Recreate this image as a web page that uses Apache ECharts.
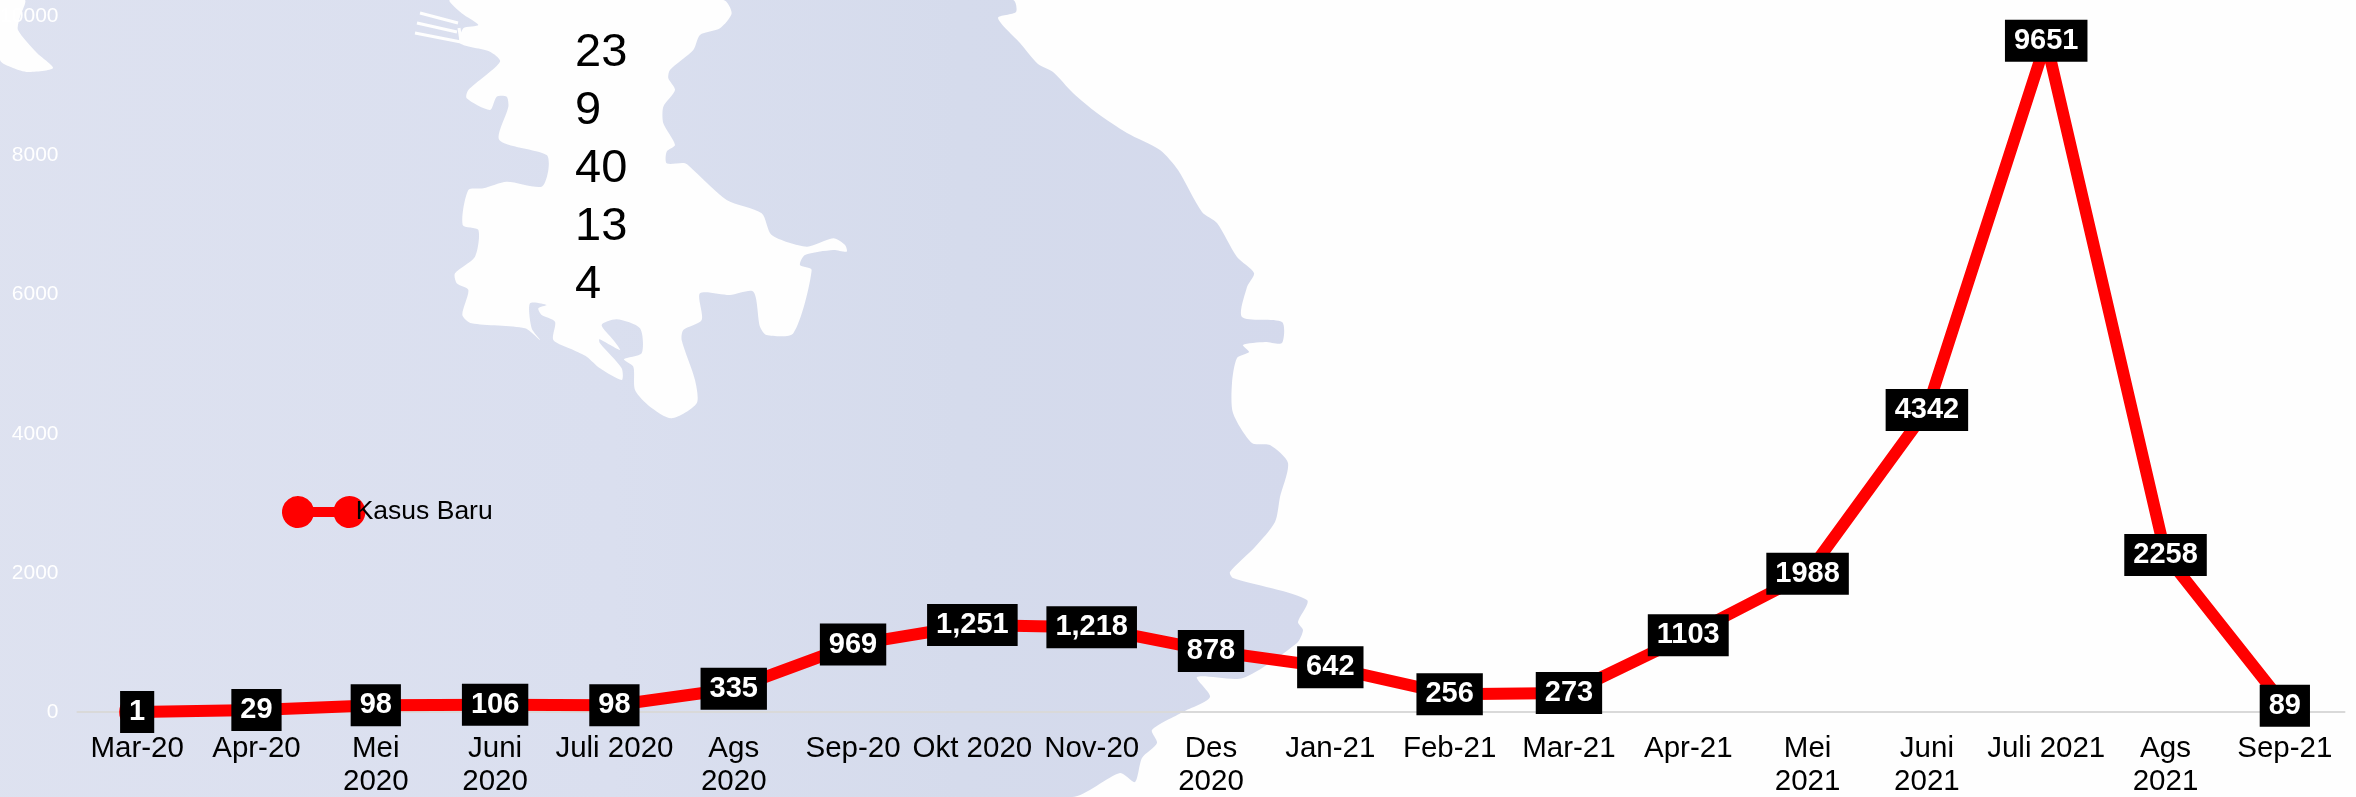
<!DOCTYPE html>
<html>
<head>
<meta charset="utf-8">
<style>html,body{margin:0;padding:0;background:#fefefe}#c{width:2356px;height:797px}</style>
<script src="https://cdn.jsdelivr.net/npm/echarts@6/dist/echarts.min.js"></script>
</head>
<body>
<div id="c"></div>
<script>
var categories = ["Mar-20","Apr-20","Mei\n2020","Juni\n2020","Juli 2020","Ags\n2020","Sep-20","Okt 2020","Nov-20","Des\n2020","Jan-21","Feb-21","Mar-21","Apr-21","Mei\n2021","Juni\n2021","Juli 2021","Ags\n2021","Sep-21"];
var kasusBaru = [1,29,98,106,98,335,969,1251,1218,878,642,256,273,1103,1988,4342,9651,2258,89];
var valueLabels = ["1","29","98","106","98","335","969","1,251","1,218","878","642","256","273","1103","1988","4342","9651","2258","89"];
var noteValues = ["23","9","40","13","4"];
var seriesName = "Kasus Baru";

// Decorative map backdrop (sea + land), not data
var seaOutline = [[0,0],[1013,0],[1016,12],[998,18],[1020,43],[1038,64],[1053,72],[1073,93],[1097,113],[1127,133],[1160,150],[1178,170],[1202,212],[1217,223],[1237,257],[1254,273],[1247,287],[1242,317],[1282,322],[1282,343],[1265,342],[1243,345],[1249,352],[1237,358],[1232,383],[1233,413],[1252,443],[1270,445],[1288,463],[1280,497],[1275,522],[1255,547],[1230,572],[1233,578],[1307,600],[1298,622],[1303,630],[1297,643],[1243,678],[1197,677],[1210,697],[1183,712],[1152,730],[1157,743],[1142,758],[1135,782],[1120,773],[1072,797],[0,797]];
var cornerLand = [[0,0],[25,0],[20,17],[18,30],[37,53],[53,68],[28,72],[13,68],[0,60]];
var landZoom = [[150,0],[185,40],[235,75],[190,85],[180,130],[270,155],[300,185],[205,270],[200,295],[270,330],[290,290],[320,290],[325,320],[298,420],[440,465],[445,510],[425,560],[320,545],[250,565],[205,570],[188,675],[235,690],[225,770],[165,820],[170,850],[205,870],[187,945],[215,970],[375,985],[420,1020],[395,985],[390,910],[440,915],[415,925],[425,945],[465,965],[460,1020],[520,1050],[560,1070],[600,1105],[665,1140],[665,1105],[600,1030],[598,1018],[660,1050],[640,1020],[605,975],[650,958],[720,985],[725,1060],[672,1078],[700,1100],[705,1170],[750,1220],[815,1255],[890,1210],[885,1140],[845,1020],[850,990],[905,960],[900,880],[990,885],[1060,875],[1080,980],[1100,1005],[1180,1000],[1235,810],[1200,795],[1215,765],[1300,750],[1340,755],[1335,735],[1300,715],[1220,740],[1115,705],[1085,640],[980,600],[880,510],[855,490],[800,490],[800,455],[825,435],[790,370],[790,320],[825,270],[805,235],[810,210],[880,150],[900,105],[960,85],[995,40],[970,0]];
var land = landZoom.map(function(p){return [400+p[0]/3,p[1]/3];});
var pierStrokes = [[[420,13],[458,23]],[[417,23],[457,32]],[[415,33],[461,42]],[[459,28],[461,41]]];

var bgElements = [
  {type:'polygon',z:-5,silent:true,shape:{points:seaOutline,smooth:0.25},style:{fill:{type:'linear',x:0,y:0,x2:1,y2:0,colorStops:[{offset:0,color:'#dee2f0'},{offset:0.5,color:'#dadfef'},{offset:0.75,color:'#d5dbec'},{offset:1,color:'#d4d9ec'}]}}},
  {type:'polygon',z:-4,silent:true,shape:{points:cornerLand,smooth:0.25},style:{fill:'#fefefe'}},
  {type:'polygon',z:-4,silent:true,shape:{points:land,smooth:0.25},style:{fill:'#fefefe'}}
];
pierStrokes.forEach(function(s){
  bgElements.push({type:'polyline',z:-4,silent:true,shape:{points:s},style:{stroke:'#fefefe',lineWidth:3,fill:null}});
});
bgElements.push({type:'text',z:1,silent:true,left:575,top:24,style:{text:noteValues.join('\n'),fontFamily:'"Liberation Sans",Arial,sans-serif',fontSize:47,lineHeight:58,fill:'#000'}});

var chart = echarts.init(document.getElementById('c'),null,{renderer:'canvas'});
chart.setOption({
  animation:false,
  backgroundColor:'#fefefe',
  textStyle:{fontFamily:'"Liberation Sans",Arial,sans-serif'},
  graphic:{elements:bgElements},
  grid:{left:77.5,right:11.5,top:16.5,bottom:85,containLabel:false,outerBoundsMode:'none'},
  legend:{
    show:true,left:282,top:496,padding:0,orient:'horizontal',selectedMode:false,
    itemWidth:84,itemHeight:32,
    icon:'path://M16 0A16 16 0 0 1 31.5 11H52.5A16 16 0 1 1 52.5 21H31.5A16 16 0 1 1 16 0Z',
    data:[{name:seriesName,itemStyle:{color:'#ff0000'}}],
    textStyle:{color:'#000',fontSize:26.5,fontFamily:'"Liberation Sans",Arial,sans-serif',padding:[0,0,0,-15]}
  },
  xAxis:{
    type:'category',data:categories,boundaryGap:true,
    axisLine:{show:true,lineStyle:{color:'#d9d9d9',width:2}},
    axisTick:{show:false},
    axisLabel:{interval:0,color:'#000',fontSize:29.5,lineHeight:33,margin:20,fontFamily:'"Liberation Sans",Arial,sans-serif',hideOverlap:false}
  },
  yAxis:{
    type:'value',min:0,max:10000,interval:2000,
    axisLine:{show:false},axisTick:{show:false},splitLine:{show:false},
    axisLabel:{color:'#ffffff',fontSize:21,margin:19,fontFamily:'"Liberation Sans",Arial,sans-serif',formatter:function(v){return String(v);}}
  },
  series:[{
    name:seriesName,type:'line',data:kasusBaru,smooth:false,
    symbol:'circle',symbolSize:36,showSymbol:true,
    itemStyle:{color:'#ff0000'},
    lineStyle:{color:'#ff0000',width:12,cap:'round',join:'round'},
    label:{
      show:true,position:'inside',offset:[0,1],
      formatter:function(p){return valueLabels[p.dataIndex];},
      color:'#fff',fontWeight:'bold',fontSize:29,lineHeight:28,
      fontFamily:'"Liberation Sans",Arial,sans-serif',
      backgroundColor:'#000',padding:[7,9]
    },
    labelLayout:{hideOverlap:false},
    z:3
  }]
});
</script>
</body>
</html>
